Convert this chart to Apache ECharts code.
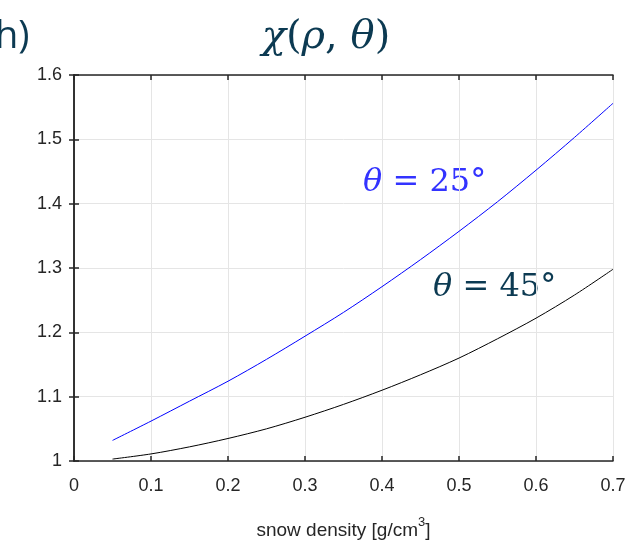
<!DOCTYPE html>
<html><head><meta charset="utf-8">
<script src="https://cdn.jsdelivr.net/npm/echarts@6/dist/echarts.min.js"></script>
<style>html,body{margin:0;padding:0;background:#fff}#c{width:633px;height:541px}</style>
</head><body><div id="c"></div>
<script>
const density = [0.05,0.1,0.15,0.2,0.25,0.3,0.35,0.4,0.45,0.5,0.55,0.6,0.65,0.7];
const chi25 = [1.032,1.062,1.093,1.124,1.158,1.194,1.231,1.271,1.313,1.357,1.403,1.452,1.503,1.556];
const chi45 = [1.003,1.011,1.022,1.035,1.050,1.068,1.088,1.110,1.134,1.160,1.190,1.222,1.258,1.298];
const xTicks = [0,0.1,0.2,0.3,0.4,0.5,0.6,0.7];
const yTicks = [1,1.1,1.2,1.3,1.4,1.5,1.6];

const chart = echarts.init(document.getElementById('c'));
const axisLine = {show:true, lineStyle:{color:'#262626', width:1.5}};
const tick = {show:true, inside:true, length:5, lineStyle:{color:'#262626', width:1.5}};
const lab = {color:'#262626', fontSize:18, fontFamily:'Liberation Sans, Arial', formatter:v=>String(+v.toFixed(1))};
const serif = "'DejaVu Serif', 'Liberation Serif', serif";
chart.setOption({
  animation:false,
  grid:{left:74, right:20, top:75, bottom:80, containLabel:false, outerBoundsMode:'none'},
  xAxis:[{type:'value', min:0, max:0.7, interval:0.1, position:'bottom',
    axisLine, axisTick:tick, axisLabel:Object.assign({margin:16}, lab),
    splitLine:{show:true, lineStyle:{color:'#e5e5e5', width:1}},
    name:'{n|snow density [g/cm}{s|3}{n|]}', nameLocation:'middle', nameGap:55,
    nameTextStyle:{color:'#262626', fontSize:19, fontFamily:'Liberation Sans, Arial',
      rich:{n:{fontSize:19, fontFamily:'Liberation Sans, Arial', color:'#262626', lineHeight:24, verticalAlign:'bottom'},
            s:{fontSize:13, fontFamily:'Liberation Sans, Arial', color:'#262626', lineHeight:24, verticalAlign:'top'}}}},
   {type:'value', min:0, max:0.7, interval:0.1, position:'top',
    axisLine, axisTick:tick, axisLabel:{show:false}, splitLine:{show:false}}],
  yAxis:[{type:'value', min:1, max:1.6, interval:0.1, position:'left',
    axisLine, axisTick:tick, axisLabel:Object.assign({margin:12}, lab),
    splitLine:{show:true, lineStyle:{color:'#e5e5e5', width:1}}},
   {type:'value', min:1, max:1.6, interval:0.1, position:'right',
    axisLine, axisTick:tick, axisLabel:{show:false}, splitLine:{show:false}}],
  series:[
    {type:'line', data:density.map((d,i)=>[d,chi25[i]]), smooth:0.3, symbol:'none',
      lineStyle:{color:'#0000ff', width:1}},
    {type:'line', data:density.map((d,i)=>[d,chi45[i]]), smooth:0.3, symbol:'none',
      lineStyle:{color:'#000000', width:1}}
  ],
  graphic:[
    {type:'text', x:-5, y:37, style:{text:'h)', fill:'#0c3a52', align:'left', verticalAlign:'middle', font:"38px 'Open Sans', 'Noto Sans', sans-serif"}},
    {type:'text', x:326, y:38, style:{
      text:'{i|χ}{n|(}{i|ρ}{n|, }{i|θ}{n|)}', align:'center', verticalAlign:'middle',
      rich:{i:{fontFamily:serif, fontStyle:'italic', fontSize:40, fill:'#0c3a52'},
            n:{fontFamily:serif, fontSize:40, fill:'#0c3a52'}}}},
    {type:'text', x:363, y:183, style:{
      text:'{i|θ}{n| = 25°}', verticalAlign:'middle',
      rich:{i:{fontFamily:serif, fontStyle:'italic', fontSize:32, fill:'#3333ff'},
            n:{fontFamily:serif, fontSize:32, fill:'#3333ff'}}}},
    {type:'text', x:433, y:288, style:{
      text:'{i|θ}{n| = 45°}', verticalAlign:'middle',
      rich:{i:{fontFamily:serif, fontStyle:'italic', fontSize:32, fill:'#0c3a52'},
            n:{fontFamily:serif, fontSize:32, fill:'#0c3a52'}}}}
  ]
});
</script></body></html>
